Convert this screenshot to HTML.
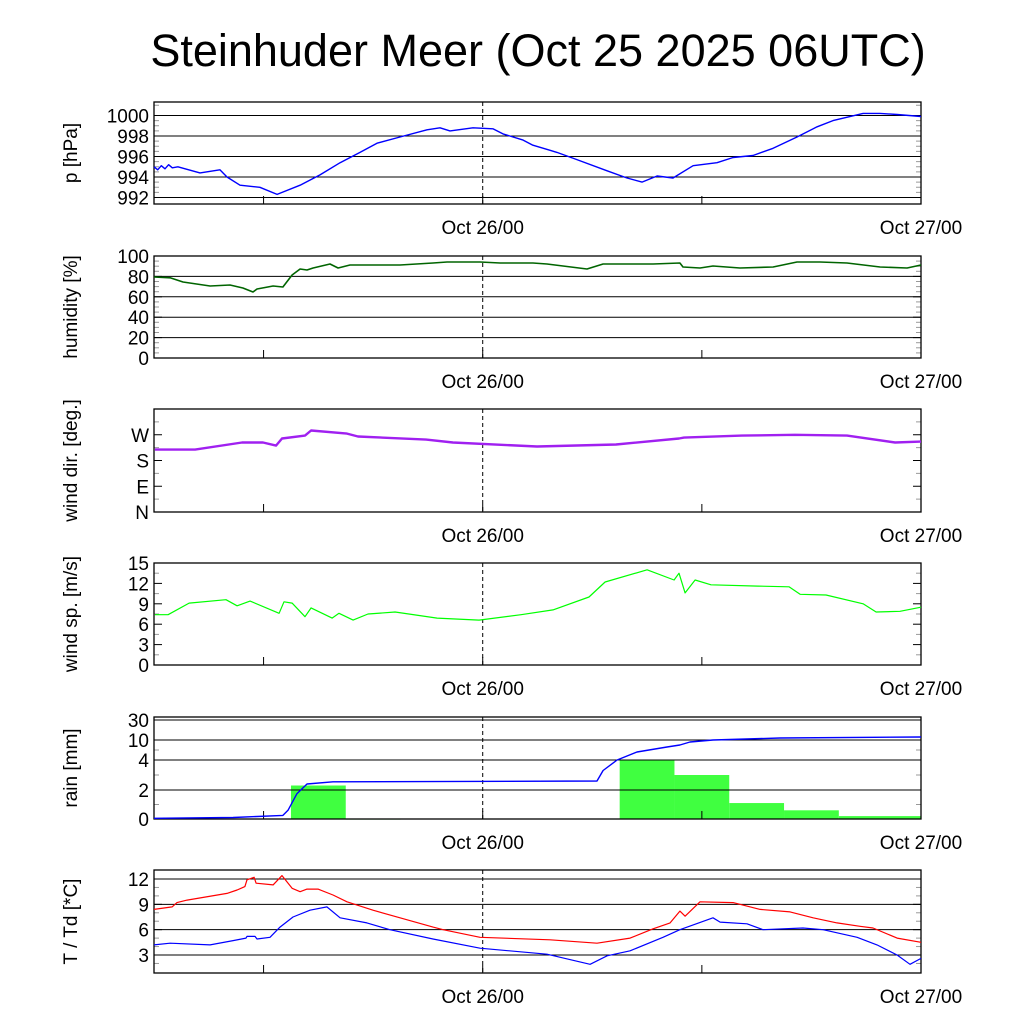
<!DOCTYPE html>
<html><head><meta charset="utf-8"><style>
body{margin:0;background:#fff;width:1024px;height:1024px;overflow:hidden}
svg{font-family:"Liberation Sans",sans-serif}
</style></head><body>
<svg id="chart" width="1024" height="1024" viewBox="0 0 1024 1024" xmlns="http://www.w3.org/2000/svg">
<text x="538" y="66" font-size="45" text-anchor="middle">Steinhuder Meer (Oct 25 2025 06UTC)</text>
</svg>
<script>
// time axis: hours since Oct 25 06UTC
const xTickHours = [6, 18, 30];
const xLabelHours = [18, 42];
const xLabels = ["Oct 26/00", "Oct 27/00"];

const pTimes = [0,0.2,0.4,0.6,0.8,1.0,1.31,2.52,3.61,4.0,4.71,5.8,6.74,8.0,9.09,10.19,11.28,12.21,13.47,14.95,15.66,16.21,17.47,18.56,19.11,20.21,20.75,21.69,22.07,23.16,24.81,25.9,26.72,27.55,28.42,29.52,30.83,31.71,32.8,33.9,35.21,36.31,37.18,38.83,39.76,40.69,42];
const pVals = [995.0,994.7,995.1,994.8,995.2,994.9,995.0,994.4,994.7,994.0,993.2,993.0,992.3,993.2,994.2,995.4,996.4,997.3,997.9,998.6,998.8,998.5,998.8,998.7,998.2,997.6,997.1,996.6,996.4,995.7,994.6,993.9,993.5,994.1,993.9,995.1,995.4,995.9,996.1,996.8,997.9,998.9,999.5,1000.2,1000.2,1000.1,999.9];

const hTimes = [0,0.88,1.59,3.07,4.16,4.87,5.42,5.64,6.52,7.06,7.56,8.0,8.38,8.71,9.64,10.08,10.73,13.47,15.28,16.05,17.85,18.95,20.75,21.52,23.71,24.59,27.33,28.8,28.97,29.9,30.61,32.09,33.9,35.21,36.47,37.95,39.76,41.24,42];
const hVals = [79.4,78.6,74.5,70.6,71.6,68.6,64.7,67.6,70.6,69.6,81.4,87.3,86.3,88.2,92.2,88.2,91.2,91.2,93.1,94.1,94.1,93.1,93.1,92.2,87.3,92.2,92.2,93.1,89.2,88.2,90.2,88.2,89.2,94.1,94.1,93.1,89.2,88.2,91.2];

const dTimes = [0.05,2.25,4.82,5.97,6.68,7.01,8.27,8.6,10.57,11.17,14.9,16.37,20.97,25.3,28.75,29.02,32.2,35.1,37.95,40.58,42];
const dVals = [218,218,243,243,232,257,267,285,274,264,253,243,229,236,257,260,267,270,267,243,246];

const sTimes = [0.05,0.77,1.92,3.94,4.55,5.26,6.85,7.12,7.56,8.27,8.6,9.75,10.13,10.9,11.72,13.2,15.5,17.8,20.1,21.85,23.82,24.7,27.0,28.48,28.75,29.08,29.63,30.5,33.08,34.77,35.38,36.8,38.83,39.54,40.85,42];
const sVals = [7.4,7.4,9.1,9.6,8.7,9.4,7.6,9.3,9.1,7.1,8.4,6.9,7.6,6.6,7.5,7.8,6.9,6.6,7.4,8.1,10.0,12.2,14.0,12.5,13.5,10.6,12.5,11.8,11.6,11.5,10.4,10.3,9.0,7.8,7.9,8.5];

const rainStart = [7.5,10.5,25.5,28.5,31.5,34.5,37.5];
const rainEnd = [10.5,13.5,28.5,31.5,34.5,37.5,42];
const rainVals = [2.3,0.03,4.0,3.0,1.1,0.6,0.2];
const cumTimes = [0,4.33,7.06,7.34,7.83,8.38,9.8,24.26,24.59,25.36,26.45,28.09,28.8,29.35,30.61,34.28,42];
const cumVals = [0.05,0.1,0.25,0.6,1.75,2.4,2.55,2.6,3.3,4.0,6.4,7.9,8.5,9.4,10,12,13];

const tTimes = [0,0.99,1.26,1.81,4.0,4.55,4.98,5.09,5.48,5.59,6.52,7.01,7.56,8.0,8.38,8.98,9.8,10.57,11.99,13.47,15.28,15.83,17.85,21.69,24.26,26.07,27.33,28.26,28.8,29.08,29.9,31.71,33.19,34.83,36.09,37.4,38.66,39.37,40.69,42];
const tVals = [8.4,8.7,9.2,9.5,10.3,10.7,11.1,11.9,12.2,11.5,11.3,12.4,10.9,10.5,10.8,10.8,10.1,9.3,8.3,7.4,6.3,6.0,5.1,4.8,4.4,5.0,6.1,6.8,8.2,7.6,9.3,9.2,8.4,8.1,7.4,6.8,6.4,6.2,5.0,4.5];
const tdTimes = [0,0.88,3.07,4.33,5.04,5.09,5.53,5.64,6.35,6.9,7.61,8.54,9.47,10.19,11.66,12.92,15.28,17.85,21.52,23.88,24.81,26.07,27.87,28.8,30.61,31.0,32.47,33.35,35.54,36.64,38.5,39.59,40.69,41.4,42];
const tdVals = [4.2,4.4,4.2,4.7,5.0,5.2,5.2,4.9,5.1,6.3,7.5,8.3,8.7,7.4,6.8,6.0,4.9,3.8,3.1,1.9,2.9,3.5,5.1,6.0,7.4,6.9,6.7,6.0,6.2,6.0,5.1,4.2,3.0,1.9,2.6];

const NS = "http://www.w3.org/2000/svg";
const svg = document.getElementById("chart");
const X0 = 154, X1 = 921;
const xs = h => X0 + h / 42 * (X1 - X0);
function el(tag, attrs, parent) {
  const e = document.createElementNS(NS, tag);
  for (const k in attrs) e.setAttribute(k, attrs[k]);
  (parent || svg).appendChild(e);
  return e;
}
function linY(v0, y0, v1, y1) { return v => y0 + (v - v0) * (y1 - y0) / (v1 - v0); }

function panel(name, top, bottom, ylab, ticks, tickLabels, ys, grid, minor) {
  const g = el("g", {});
  
  
  if (grid) ticks.forEach(v => {
    const l = el("line", {x1: X0, x2: X1, y1: ys(v), y2: ys(v), stroke: "#000", "stroke-width": 1}, g);
    
    
  });
  (minor || []).forEach(v => {
    el("line", {x1: X0, x2: X0 + 5, y1: ys(v), y2: ys(v), stroke: "#999"}, g);
    el("line", {x1: X1 - 5, x2: X1, y1: ys(v), y2: ys(v), stroke: "#999"}, g);
  });
  ticks.forEach((v, i) => {
    el("line", {x1: X0, x2: X0 + 8, y1: ys(v), y2: ys(v), stroke: "#000"}, g);
    el("line", {x1: X1 - 8, x2: X1, y1: ys(v), y2: ys(v), stroke: "#000"}, g);
    const t = el("text", {x: X0 - 5, y: ys(v) + 7, "font-size": 19, "text-anchor": "end"}, g);
    
    
    t.textContent = tickLabels[i];
  });
  xTickHours.forEach(h => {
    el("line", {x1: xs(h), x2: xs(h), y1: bottom, y2: bottom - 8, stroke: "#000"}, g);
  });
  const dl = el("line", {x1: xs(18), x2: xs(18), y1: top, y2: bottom, stroke: "#000", "stroke-dasharray": "4,3"}, g);
  
  
  const fr = el("rect", {x: X0, y: top, width: X1 - X0, height: bottom - top, fill: "none", stroke: "#000", "stroke-width": 1.3}, g);
  
  
  xLabelHours.forEach((h, i) => {
    const t = el("text", {x: xs(h), y: bottom + 30, "font-size": 19, "text-anchor": "middle"}, g);
    
    
    t.textContent = xLabels[i];
  });
  const yl = el("text", {x: 0, y: 0, "font-size": 19, "text-anchor": "middle", transform: `translate(77,${(top + bottom) / 2}) rotate(-90)`}, g);
  
  
  yl.textContent = ylab;
  return g;
}
function series(g, name, times, vals, ys, color, w) {
  const d = times.map((t, i) => (i ? "L" : "M") + xs(t).toFixed(1) + "," + ys(vals[i]).toFixed(1)).join("");
  const p = el("path", {d: d, fill: "none", stroke: color, "stroke-width": w, "stroke-linejoin": "round"}, g);
  
  
}

// pressure
let ys = linY(1000, 115.5, 992, 197.5);
let g = panel("pressure", 102, 204, "p [hPa]", [992,994,996,998,1000], ["992","994","996","998","1000"], ys, true, [993,995,997,999,1001,992.5,993.5,994.5,995.5,996.5,997.5,998.5,999.5]);
series(g, "pressure-line", pTimes, pVals, ys, "#0000ff", 1.4);

// humidity
ys = linY(0, 358, 100, 256);
g = panel("humidity", 256, 358, "humidity [%]", [0,20,40,60,80,100], ["0","20","40","60","80","100"], ys, true, [5,10,15,25,30,35,45,50,55,65,70,75,85,90,95]);
series(g, "humidity-line", hTimes, hVals, ys, "#006400", 1.6);

// wind direction
ys = linY(0, 512, 360, 409);
g = panel("wind-dir", 409, 512, "wind dir. [deg.]", [0,90,180,270], ["N","E","S","W"], ys, false, [45,135,225,315]);
series(g, "wind-dir-line", dTimes, dVals, ys, "#a020f0", 2.4);

// wind speed
ys = linY(0, 665, 15, 563);
g = panel("wind-speed", 563, 665, "wind sp. [m/s]", [0,3,6,9,12,15], ["0","3","6","9","12","15"], ys, false, [1.5,4.5,7.5,10.5,13.5]);
series(g, "wind-speed-line", sTimes, sVals, ys, "#00ff00", 1.2);

// rain (piecewise scale)
const rainTickV = [0,2,4,10,30];
const rainTickY = [819,790,760,740,720];
ys = v => {
  for (let i = 0; i < rainTickV.length - 1; i++) {
    if (v <= rainTickV[i + 1]) return rainTickY[i] + (v - rainTickV[i]) * (rainTickY[i + 1] - rainTickY[i]) / (rainTickV[i + 1] - rainTickV[i]);
  }
  return 720;
};
g = panel("rain", 717, 819, "rain [mm]", rainTickV, ["0","2","4","10","30"], ys, true, [1,3,7]);
rainStart.forEach((s, i) => {
  const r = el("rect", {x: xs(s), y: ys(rainVals[i]), width: xs(rainEnd[i]) - xs(s), height: Math.max(819 - ys(rainVals[i]), 1), fill: "#40ff40"}, g);
  
  
  g.insertBefore(r, g.firstChild);
});
series(g, "cumulative-rain-line", cumTimes, cumVals, ys, "#0000ff", 1.4);

// temperature
ys = linY(12, 879, 3, 955);
g = panel("temperature", 870, 973, "T / Td [*C]", [3,6,9,12], ["3","6","9","12"], ys, true, [2,4,5,7,8,10,11]);
series(g, "temperature-line", tTimes, tVals, ys, "#ff0000", 1.2);
series(g, "dewpoint-line", tdTimes, tdVals, ys, "#0000ff", 1.2);
</script>
</body></html>
